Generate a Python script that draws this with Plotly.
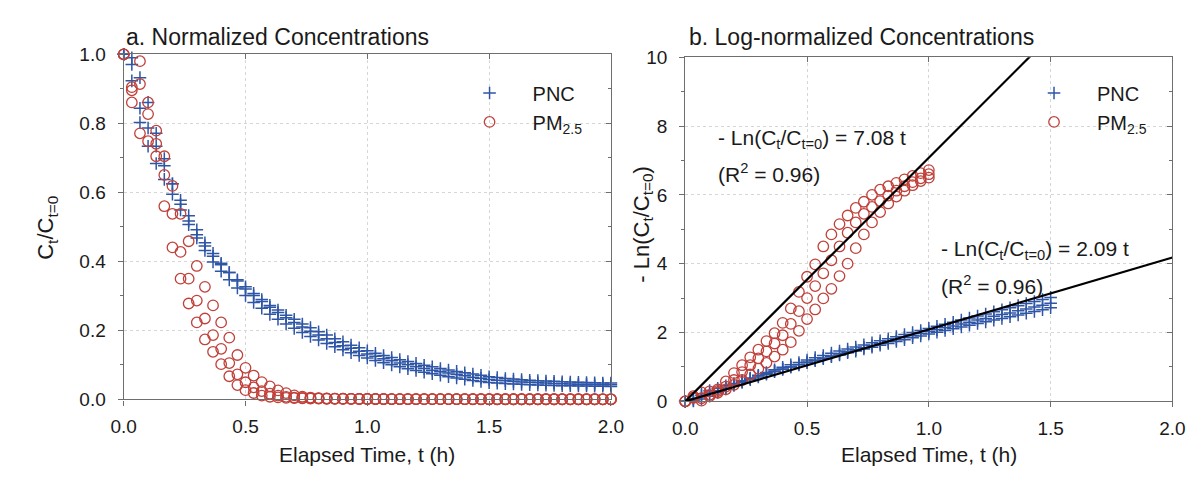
import numpy as np
import plotly.graph_objects as go

# ---------------- data ----------------
# sampling times in minutes (every 2 min over 2 h)
elapsed_min = [0, 2, 4, 6, 8, 10, 12, 14, 16, 18, 20, 22, 24, 26, 28, 30, 32, 34, 36, 38,
               40, 42, 44, 46, 48, 50, 52, 54, 56, 58, 60, 62, 64, 66, 68, 70, 72, 74, 76, 78,
               80, 82, 84, 86, 88, 90, 92, 94, 96, 98, 100, 102, 104, 106, 108, 110, 112, 114,
               116, 118, 120]

# -Ln(Ct/Ct=0) for three PNC decay runs
pnc_run1 = [0.00, 0.03, 0.07, 0.15, 0.26, 0.36, 0.47, 0.57, 0.66, 0.74,
            0.81, 0.88, 0.94, 1.00, 1.06, 1.12, 1.18, 1.24, 1.30, 1.35,
            1.41, 1.46, 1.52, 1.57, 1.63, 1.68, 1.74, 1.79, 1.85, 1.90,
            1.96, 2.01, 2.06, 2.11, 2.16, 2.21, 2.26, 2.31, 2.36, 2.41,
            2.46, 2.51, 2.56, 2.61, 2.66, 2.72, 2.76, 2.80, 2.83, 2.86,
            2.89, 2.91, 2.93, 2.95, 2.97, 2.99, 3.00, 3.02, 3.03, 3.04,
            3.05]
pnc_run2 = [0.00, 0.08, 0.17, 0.24, 0.31, 0.39, 0.47, 0.55, 0.63, 0.71,
            0.79, 0.86, 0.93, 1.00, 1.07, 1.14, 1.20, 1.26, 1.32, 1.38,
            1.44, 1.50, 1.56, 1.62, 1.68, 1.74, 1.80, 1.86, 1.91, 1.97,
            2.03, 2.08, 2.14, 2.19, 2.25, 2.30, 2.36, 2.41, 2.47, 2.52,
            2.57, 2.63, 2.68, 2.74, 2.79, 2.85, 2.89, 2.92, 2.95, 2.98,
            3.00, 3.03, 3.05, 3.07, 3.09, 3.10, 3.12, 3.13, 3.14, 3.15,
            3.16]
pnc_run3 = [0.00, 0.01, 0.22, 0.31, 0.38, 0.45, 0.52, 0.60, 0.68, 0.76,
            0.84, 0.92, 0.99, 1.06, 1.13, 1.20, 1.27, 1.33, 1.40, 1.46,
            1.52, 1.58, 1.64, 1.70, 1.76, 1.82, 1.88, 1.94, 2.00, 2.06,
            2.12, 2.18, 2.24, 2.30, 2.36, 2.42, 2.48, 2.54, 2.60, 2.66,
            2.72, 2.78, 2.84, 2.90, 2.96, 3.02, 3.05, 3.08, 3.11, 3.13,
            3.15, 3.17, 3.19, 3.21, 3.22, 3.23, 3.24, 3.25, 3.26, 3.27,
            3.28]

# -Ln(Ct/Ct=0) for three PM2.5 decay runs
pm25_run1 = [0.00, 0.10, 0.26, 0.29, 0.35, 0.58, 0.82, 1.05, 1.28, 1.50,
             1.75, 1.98, 2.28, 2.70, 3.18, 3.62, 3.98, 4.50, 4.85, 5.15,
             5.40, 5.62, 5.80, 6.00, 6.15, 6.25, 6.35, 6.45, 6.55, 6.63,
             6.72, 6.80, 6.87, 6.93, 6.99, 7.05, 7.10, 7.15, 7.20, 7.24,
             7.28, 7.32, 7.36, 7.40, 7.43, 7.46, 7.49, 7.52, 7.55, 7.58,
             7.60, 7.62, 7.64, 7.66, 7.68, 7.70, 7.72, 7.74, 7.75, 7.77,
             7.78]
pm25_run2 = [0.00, 0.11, 0.09, 0.19, 0.30, 0.43, 0.62, 0.85, 1.05, 1.25,
             1.45, 1.68, 1.92, 2.25, 2.62, 3.00, 3.35, 3.72, 4.10, 4.50,
             4.90, 5.20, 5.45, 5.65, 5.82, 5.98, 6.12, 6.25, 6.37, 6.48,
             6.60, 6.70, 6.78, 6.85, 6.92, 6.98, 7.04, 7.09, 7.14, 7.18,
             7.22, 7.26, 7.30, 7.33, 7.36, 7.39, 7.42, 7.45, 7.48, 7.50,
             7.52, 7.54, 7.56, 7.58, 7.60, 7.62, 7.64, 7.65, 7.66, 7.67,
             7.68]
pm25_run3 = [0.00, 0.15, 0.02, 0.15, 0.25, 0.35, 0.48, 0.62, 0.78, 0.95,
             1.12, 1.30, 1.50, 1.72, 2.05, 2.39, 2.67, 2.99, 3.27, 3.64,
             4.00, 4.45, 4.85, 5.20, 5.50, 5.75, 5.95, 6.12, 6.28, 6.40,
             6.50, 6.60, 6.69, 6.77, 6.84, 6.91, 6.97, 7.02, 7.07, 7.12,
             7.16, 7.20, 7.24, 7.27, 7.30, 7.33, 7.36, 7.39, 7.41, 7.43,
             7.45, 7.47, 7.49, 7.51, 7.53, 7.55, 7.56, 7.57, 7.58, 7.59,
             7.60]

# first-order fits shown in panel b
fit_slope_pm25 = 7.08
fit_slope_pnc = 2.09
fit_r2_pm25 = 0.96
fit_r2_pnc = 0.96
fit_t = [0.0, 2.0]
pm25_fit_end_h = 1.0   # PM2.5 shown up to 1.0 h in panel b
pnc_fit_end_h = 1.5    # PNC shown up to 1.5 h in panel b

# ---------------- styling ----------------
W, H = 1197, 477
FONT = "Arial, Liberation Sans, sans-serif"
BLUE = "#2f56a6"
RED = "#c0403a"
AXC = "#6e6e6e"
TXT = "#1a1a1a"


def px(x):
    return x / W


def py(y):
    return 1 - y / H


t_h = np.array(elapsed_min) / 60.0
pnc_runs = [np.array(r) for r in (pnc_run1, pnc_run2, pnc_run3)]
pm_runs = [np.array(r) for r in (pm25_run1, pm25_run2, pm25_run3)]

fig = go.Figure()

pnc_marker = dict(symbol="cross-thin-open", size=9, color=BLUE,
                  line=dict(color=BLUE, width=1.5))
pm_marker = dict(symbol="circle-open", size=10.5, color=RED,
                 line=dict(color=RED, width=1.3))

# ---- panel a: normalized concentrations ----
fig.add_trace(go.Scatter(x=np.concatenate([t_h for _ in pnc_runs]),
                         y=np.exp(-np.concatenate(pnc_runs)), mode="markers",
                         marker=pnc_marker, name="PNC", legend="legend",
                         xaxis="x", yaxis="y", cliponaxis=False))
fig.add_trace(go.Scatter(x=np.concatenate([t_h for _ in pm_runs]),
                         y=np.exp(-np.concatenate(pm_runs)), mode="markers",
                         marker=pm_marker, name="PM<sub>2.5</sub>", legend="legend",
                         xaxis="x", yaxis="y", cliponaxis=False))

# ---- panel b: log-normalized concentrations ----
mask_pnc = t_h <= pnc_fit_end_h + 1e-9
mask_pm = t_h <= pm25_fit_end_h + 1e-9
fig.add_trace(go.Scatter(x=np.concatenate([t_h[mask_pnc] for _ in pnc_runs]),
                         y=np.concatenate([r[mask_pnc] for r in pnc_runs]), mode="markers",
                         marker=pnc_marker, name="PNC", legend="legend2",
                         xaxis="x2", yaxis="y2", cliponaxis=False))
fig.add_trace(go.Scatter(x=np.concatenate([t_h[mask_pm] for _ in pm_runs]),
                         y=np.concatenate([r[mask_pm] for r in pm_runs]), mode="markers",
                         marker=pm_marker, name="PM<sub>2.5</sub>", legend="legend2",
                         xaxis="x2", yaxis="y2", cliponaxis=False))
ft = np.array(fit_t)
for s in (fit_slope_pm25, fit_slope_pnc):
    fig.add_trace(go.Scatter(x=ft, y=s * ft, mode="lines", showlegend=False,
                             line=dict(color="black", width=2.2),
                             xaxis="x2", yaxis="y2", hoverinfo="skip"))

# empty traces to activate the mirrored (top/right) tick axes
fig.add_trace(go.Scatter(x=[], y=[], xaxis="x3", yaxis="y3", showlegend=False))
fig.add_trace(go.Scatter(x=[], y=[], xaxis="x4", yaxis="y4", showlegend=False))

tickfont = dict(family=FONT, size=19, color=TXT)
dom_a_x = [px(105), px(603)]
dom_a_y = [py(399), py(38)]
dom_b_x = [px(679), px(1177)]
dom_b_y = [py(401), py(41)]

common_x = dict(range=[0, 2], dtick=0.5, tick0=0, tickformat=".1f", showgrid=True,
                gridcolor="#d6d6d6", griddash="dot", gridwidth=1, zeroline=False,
                showline=True, linecolor=AXC, linewidth=1.3, ticks="outside",
                ticklen=5, tickcolor=AXC, tickfont=tickfont, ticklabelstandoff=5)
common_y = dict(showgrid=True, gridcolor="#d6d6d6", griddash="dot", gridwidth=1,
                zeroline=False, showline=True, linecolor=AXC, linewidth=1.3,
                ticks="outside", ticklen=5, tickcolor=AXC, tickfont=tickfont,
                ticklabelstandoff=8)
mirror_x = dict(range=[0, 2], dtick=0.5, tick0=0, showgrid=False, zeroline=False,
                showline=True, linecolor=AXC, linewidth=1.3, ticks="inside",
                ticklen=5, tickcolor=AXC, showticklabels=False, side="top")
mirror_y = dict(showgrid=False, zeroline=False, showline=True, linecolor=AXC,
                linewidth=1.3, ticks="inside", ticklen=5, tickcolor=AXC,
                showticklabels=False, side="right")

fig.update_layout(
    width=W, height=H, margin=dict(l=0, r=0, t=0, b=0),
    paper_bgcolor="white", plot_bgcolor="white",
    font=dict(family=FONT, color=TXT),
    xaxis=dict(domain=dom_a_x, anchor="y", **common_x),
    yaxis=dict(domain=dom_a_y, anchor="x", range=[0, 1], dtick=0.2, tick0=0,
               tickformat=".1f",
               minor=dict(dtick=0.1, ticks="outside", ticklen=3, tickcolor=AXC,
                          showgrid=False), **common_y),
    xaxis2=dict(domain=dom_b_x, anchor="y2", **common_x),
    yaxis2=dict(domain=dom_b_y, anchor="x2", range=[0, 10], dtick=2, tick0=0,
                minor=dict(dtick=1, ticks="outside", ticklen=3, tickcolor=AXC,
                           showgrid=False), **common_y),
    xaxis3=dict(overlaying="x", anchor="y", **mirror_x),
    yaxis3=dict(overlaying="y", anchor="x", range=[0, 1], dtick=0.2, tick0=0,
                minor=dict(dtick=0.1, ticks="inside", ticklen=3, tickcolor=AXC),
                **mirror_y),
    xaxis4=dict(overlaying="x2", anchor="y2", **mirror_x),
    yaxis4=dict(overlaying="y2", anchor="x2", range=[0, 10], dtick=2, tick0=0,
                minor=dict(dtick=1, ticks="inside", ticklen=3, tickcolor=AXC),
                **mirror_y),
    legend=dict(x=px(435), y=py(58), xanchor="left", yanchor="top",
                bgcolor="rgba(0,0,0,0)", font=dict(family=FONT, size=20, color=TXT),
                itemwidth=76, tracegroupgap=0),
    legend2=dict(x=px(1012), y=py(58), xanchor="left", yanchor="top",
                 bgcolor="rgba(0,0,0,0)", font=dict(family=FONT, size=20, color=TXT),
                 itemwidth=76, tracegroupgap=0),
    showlegend=True,
)

ann_font = dict(family=FONT, size=21, color=TXT)
anns = [
    dict(x=px(105), y=py(20), text="a. Normalized Concentrations", xanchor="left",
         yanchor="middle", font=dict(family=FONT, size=23, color=TXT)),
    dict(x=px(681), y=py(20), text="b. Log-normalized Concentrations", xanchor="left",
         yanchor="middle", font=dict(family=FONT, size=23, color=TXT)),
    dict(x=px(354), y=py(457), text="Elapsed Time, t (h)", xanchor="center",
         yanchor="middle", font=ann_font),
    dict(x=px(928), y=py(457), text="Elapsed Time, t (h)", xanchor="center",
         yanchor="middle", font=ann_font),
    dict(x=px(27), y=py(219), text="C<sub>t</sub>/C<sub>t=0</sub>", textangle=-90,
         xanchor="center", yanchor="middle", font=dict(family=FONT, size=22, color=TXT)),
    dict(x=px(636), y=py(216), text="- Ln(C<sub>t</sub>/C<sub>t=0</sub>)", textangle=-90,
         xanchor="center", yanchor="middle", font=dict(family=FONT, size=22, color=TXT)),
    dict(x=px(710), y=py(127), xanchor="left", yanchor="middle", font=ann_font,
         text=f"- Ln(C<sub>t</sub>/C<sub>t=0</sub>) = {fit_slope_pm25:.2f} t"),
    dict(x=px(710), y=py(162), xanchor="left", yanchor="middle", font=ann_font,
         text=f"(R<sup>2</sup> = {fit_r2_pm25:.2f})"),
    dict(x=px(938), y=py(243), xanchor="left", yanchor="middle", font=ann_font,
         text=f"- Ln(C<sub>t</sub>/C<sub>t=0</sub>) = {fit_slope_pnc:.2f} t"),
    dict(x=px(938), y=py(279), xanchor="left", yanchor="middle", font=ann_font,
         text=f"(R<sup>2</sup> = {fit_r2_pnc:.2f})"),
]
for a in anns:
    a.update(xref="paper", yref="paper", showarrow=False)
fig.update_layout(annotations=anns)

fig.write_html("out.html")
